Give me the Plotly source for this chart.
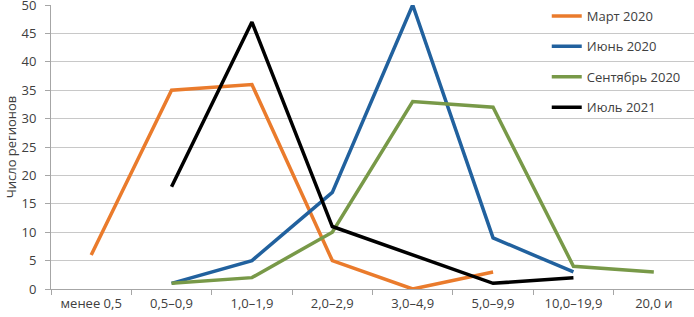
import plotly.graph_objects as go

categories = ["менее 0,5", "0,5–0,9", "1,0–1,9", "2,0–2,9", "3,0–4,9", "5,0–9,9", "10,0–19,9", "20,0 и"]
mar_2020 = [6, 35, 36, 5, 0, 3, None, None]
jun_2020 = [None, 1, 5, 17, 50, 9, 3, None]
sep_2020 = [None, 1, 2, 10, 33, 32, 4, 3]
jul_2021 = [None, 18, 47, 11, 6, 1, 2, None]

series = [
    ("Март 2020", mar_2020, "#EA7B2C"),
    ("Июнь 2020", jun_2020, "#21619E"),
    ("Сентябрь 2020", sep_2020, "#789948"),
    ("Июль 2021", jul_2021, "#000000"),
]

fig = go.Figure()
for i, (name, vals, color) in enumerate(series):
    fig.add_trace(go.Scatter(
        x=categories, y=vals, name=name, mode="lines",
        line=dict(color=color, width=3.5),
        connectgaps=False, legendgroup=f"g{i}",
    ))

font_family = "Open Sans, Noto Sans, sans-serif"
fig.update_layout(
    width=694, height=317,
    margin=dict(l=51, r=0, t=5, b=28),
    paper_bgcolor="white", plot_bgcolor="white",
    font=dict(family=font_family, size=13, color="#404040"),
    showlegend=True,
    hovermode=False,
    legend=dict(
        x=0.771, y=1.014, xanchor="left", yanchor="top",
        bgcolor="rgba(0,0,0,0)", font=dict(size=13, color="#404040"),
        traceorder="grouped", tracegroupgap=10.5, itemwidth=30,
    ),
    xaxis=dict(
        type="category", categoryorder="array", categoryarray=categories,
        showgrid=False, showline=True, linecolor="#A6A6A6", linewidth=1,
        ticks="outside", tickson="boundaries", ticklen=5, tickcolor="#A6A6A6",
        range=[-0.5, 7.5], tickfont=dict(size=13, color="#404040"),
        automargin=False, ticklabelstandoff=2,
    ),
    yaxis=dict(
        range=[0, 50], dtick=5, showgrid=True, gridcolor="#C8C8C8", gridwidth=1,
        showline=True, linecolor="#A6A6A6", linewidth=1,
        ticks="outside", ticklen=5, tickcolor="#A6A6A6",
        zeroline=False, tickfont=dict(size=13, color="#404040"),
        automargin=False, ticklabeloverflow="allow", ticklabelstandoff=6,
        title=dict(text="Число регионов", font=dict(size=13, color="#404040"), standoff=1),
    ),
)

fig.write_html(
    "out.html",
    config={"displayModeBar": False},
    post_script="document.body.style.margin='0';document.body.style.padding='0';document.body.style.overflow='hidden';",
)
